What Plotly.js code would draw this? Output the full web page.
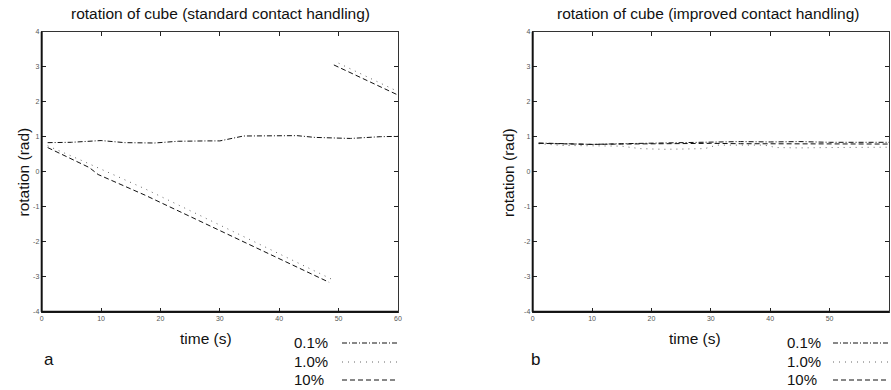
<!DOCTYPE html>
<html>
<head>
<meta charset="utf-8">
<script src="https://cdn.plot.ly/plotly-3.0.1.min.js"></script>
<style>html,body{margin:0;padding:0;background:#fff;}#chart{width:891px;height:390px;}</style>
</head>
<body>
<div id="chart"></div>
<script>
// ---- data ----
var seriesNames = ["0.1%", "1.0%", "10%"];
var xTicks = [0, 10, 20, 30, 40, 50, 60];
var yTicks = [-4, -3, -2, -1, 0, 1, 2, 3, 4];

// panel a: standard contact handling
var tA01 = [1, 5, 10, 14, 19, 23, 28, 30, 34, 40, 43, 46, 52, 57, 60];
var vA01 = [0.83, 0.84, 0.89, 0.83, 0.82, 0.87, 0.88, 0.88, 1.02, 1.04, 1.03, 0.98, 0.95, 1.0, 1.01];
var tA1 = [1, 7, 17.4, 49.3, 49.6, 50, 60];
var vA1 = [0.74, 0.3, -0.49, -3.11, null, 3.10, 2.29];
var tA10 = [1, 5.6, 8, 9.5, 17.4, 48.4, 48.8, 49.2, 60];
var vA10 = [0.69, 0.31, 0.12, -0.08, -0.67, -3.16, null, 3.05, 2.19];

// panel b: improved contact handling
var tB01 = [1, 5, 10, 15, 20, 25, 30, 35, 40, 45, 50, 55, 60];
var vB01 = [0.82, 0.80, 0.78, 0.80, 0.82, 0.84, 0.86, 0.86, 0.85, 0.86, 0.84, 0.83, 0.84];
var tB1 = [1, 5, 10, 15, 18, 22, 26, 29, 31, 35, 39, 41, 45, 50, 55, 60];
var vB1 = [0.80, 0.75, 0.74, 0.73, 0.66, 0.64, 0.65, 0.66, 0.76, 0.77, 0.76, 0.69, 0.68, 0.69, 0.70, 0.70];
var tB10 = [1, 5, 10, 15, 20, 25, 30, 35, 40, 45, 50, 55, 60];
var vB10 = [0.81, 0.79, 0.78, 0.79, 0.80, 0.80, 0.81, 0.80, 0.80, 0.79, 0.79, 0.79, 0.79];

// ---- styles ----
var W = 891, H = 390;
function px(x) { return x / W; }
function py(y) { return 1 - y / H; }
var FONT = '"Liberation Sans", Arial, Helvetica, sans-serif';
var dashes = ["5px,2px,1px,2px", "1px,5px", "5px,3px"];
var colors = ["#111", "#666", "#111"];

function tr(x, y, i, xa, ya) {
  return {x: x, y: y, type: 'scatter', mode: 'lines', name: seriesNames[i],
    xaxis: xa, yaxis: ya, connectgaps: false, hoverinfo: 'skip',
    line: {color: colors[i], width: 1, dash: dashes[i]}};
}

var data = [
  tr(tA01, vA01, 0, 'x', 'y'), tr(tA1, vA1, 1, 'x', 'y'), tr(tA10, vA10, 2, 'x', 'y'),
  tr(tB01, vB01, 0, 'x2', 'y2'), tr(tB1, vB1, 1, 'x2', 'y2'), tr(tB10, vB10, 2, 'x2', 'y2')
];

var yDom = [py(311.7), py(31.7)];
function xax(dom, anchor) {
  return {domain: dom, anchor: anchor, range: [0, 60], tickvals: xTicks, ticktext: xTicks.map(String),
    ticks: 'inside', ticklen: 4, tickwidth: 1, tickcolor: '#222', showline: true, linewidth: 1,
    linecolor: '#333', mirror: 'ticks', showgrid: false, zeroline: false,
    tickfont: {family: FONT, size: 7, color: '#555'}, fixedrange: true};
}
function yax(anchor) {
  return {domain: yDom, anchor: anchor, range: [-4, 4], tickvals: yTicks, ticktext: yTicks.map(String),
    ticks: 'inside', ticklen: 4, tickwidth: 1, tickcolor: '#222', showline: true, linewidth: 1,
    linecolor: '#333', mirror: 'ticks', showgrid: false, zeroline: false,
    tickfont: {family: FONT, size: 7, color: '#555'}, fixedrange: true};
}

var annotations = [];
function ann(text, x, y, size, xanchor) {
  annotations.push({text: text, x: px(x), y: py(y), xref: 'paper', yref: 'paper', showarrow: false,
    xanchor: xanchor || 'center', yanchor: 'middle', font: {family: FONT, size: size, color: '#111'}});
}
ann('rotation of cube (standard contact handling)', 220, 14, 15.5);
ann('rotation of cube (improved contact handling)', 708, 14, 15.5);
ann('time (s)', 206, 338, 15.5);
ann('time (s)', 695, 338, 15.5);
ann('a', 49, 359, 17);
ann('b', 535, 359, 17);
annotations.push({text: 'rotation (rad)', x: px(12), y: py(172), xref: 'paper', yref: 'paper', showarrow: false,
  textangle: -90, font: {family: FONT, size: 15.5, color: '#111'}});
annotations.push({text: 'rotation (rad)', x: px(508), y: py(172), xref: 'paper', yref: 'paper', showarrow: false,
  textangle: -90, font: {family: FONT, size: 15.5, color: '#111'}});

var shapes = [];
// thicker left/bottom axis lines
[[41.7, 398], [532.7, 889]].forEach(function (p) {
  shapes.push({type: 'line', xref: 'paper', yref: 'paper', x0: px(p[0]), x1: px(p[0]), y0: py(311.7), y1: py(31.7),
    line: {color: '#111', width: 2}});
  shapes.push({type: 'line', xref: 'paper', yref: 'paper', x0: px(p[0]), x1: px(p[1]), y0: py(311.7), y1: py(311.7),
    line: {color: '#111', width: 2}});
});
// legends
var legY = [342, 361, 379];
[[292, 342, 398], [785, 833, 889]].forEach(function (L) {
  for (var i = 0; i < 3; i++) {
    ann(seriesNames[i], L[0], legY[i], 15, 'left');
    shapes.push({type: 'line', xref: 'paper', yref: 'paper', x0: px(L[1]), x1: px(L[2]),
      y0: py(legY[i] + 1), y1: py(legY[i] + 1), line: {color: colors[i], width: 1, dash: dashes[i]}});
  }
});

var layout = {
  width: W, height: H, margin: {l: 0, r: 0, t: 0, b: 0}, showlegend: false,
  paper_bgcolor: '#fff', plot_bgcolor: '#fff', font: {family: FONT},
  xaxis: xax([px(41.7), px(398)], 'y'), yaxis: yax('x'),
  xaxis2: xax([px(532.7), px(889)], 'y2'), yaxis2: yax('x2'),
  annotations: annotations, shapes: shapes
};

Plotly.newPlot('chart', data, layout, {staticPlot: true, displayModeBar: false});
</script>
</body>
</html>
